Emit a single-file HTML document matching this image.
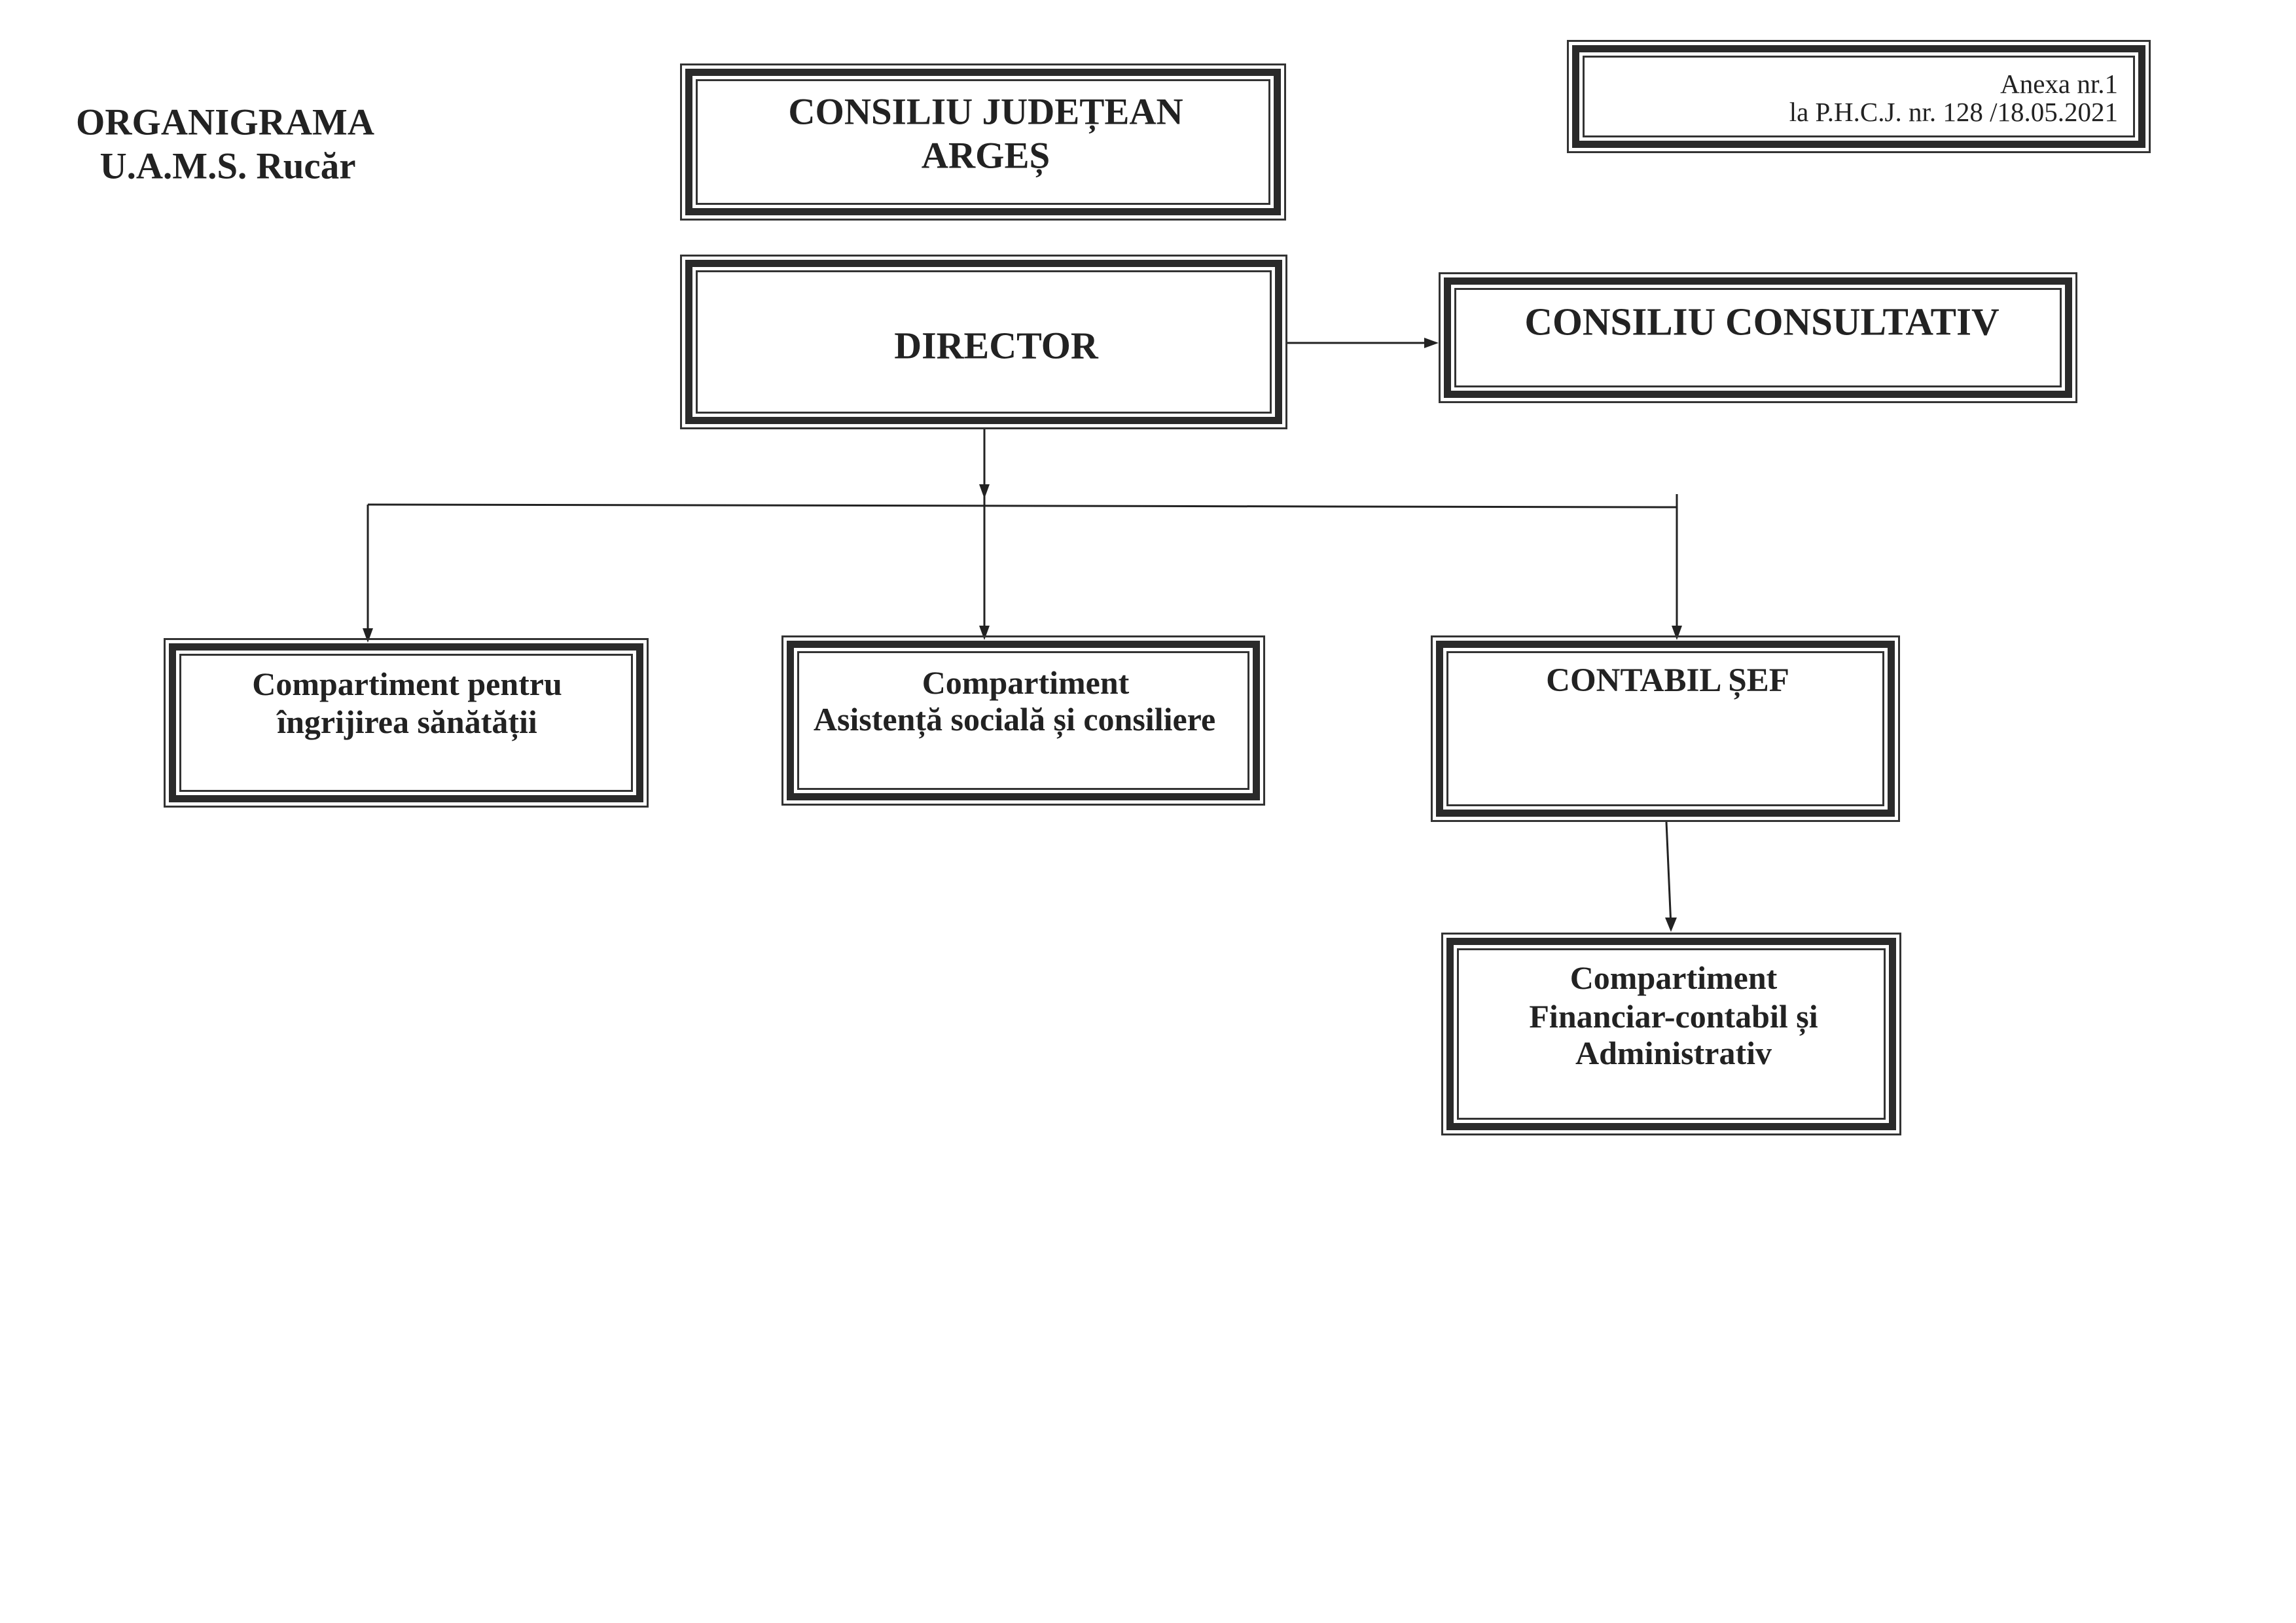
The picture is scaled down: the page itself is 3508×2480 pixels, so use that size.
<!DOCTYPE html>
<html><head><meta charset="utf-8"><style>
body{margin:0;width:3508px;height:2480px;background:#fff;position:relative;overflow:hidden;font-family:"Liberation Serif",serif;color:#222;}
.b{position:absolute;box-sizing:border-box;border:3px solid #333;padding:5px;}
.b>div{box-sizing:border-box;width:100%;height:100%;border:11px solid #2a2a2a;padding:5px;}
.b>div>div{box-sizing:border-box;width:100%;height:100%;border:3px solid #333;}
.t{position:absolute;transform:translate(-50%,-50%);white-space:nowrap;font-weight:bold;}
</style></head><body>
<svg width="3508" height="2480" style="position:absolute;left:0;top:0">
<g stroke="#222" stroke-width="3" fill="none">
<line x1="1504" y1="656" x2="1504" y2="760"/>
<path d="M1496,740 L1512,740 L1504,762z" fill="#222" stroke="none"/>
<line x1="562" y1="771" x2="2562" y2="775"/>
<line x1="562" y1="771" x2="562" y2="970"/>
<path d="M554,960 L570,960 L562,982z" fill="#222" stroke="none"/>
<line x1="1504" y1="760" x2="1504" y2="966"/>
<path d="M1496,956 L1512,956 L1504,978z" fill="#222" stroke="none"/>
<line x1="2562" y1="755" x2="2562" y2="966"/>
<path d="M2554,956 L2570,956 L2562,978z" fill="#222" stroke="none"/>
<line x1="1965" y1="524" x2="2186" y2="524"/>
<path d="M2176,516 L2176,532 L2198,524z" fill="#222" stroke="none"/>
<line x1="2546" y1="1256" x2="2553" y2="1415"/>
<path d="M2544,1402 L2562,1402 L2553,1424z" fill="#222" stroke="none"/>
</g></svg>

<div class="b" style="left:1039px;top:97px;width:926px;height:240px"><div><div></div></div></div>
<div class="b" style="left:1039px;top:389px;width:928px;height:267px"><div><div></div></div></div>
<div class="b" style="left:2198px;top:416px;width:976px;height:200px"><div><div></div></div></div>
<div class="b" style="left:2394px;top:61px;width:892px;height:173px"><div><div></div></div></div>
<div class="b" style="left:250px;top:975px;width:741px;height:259px"><div><div></div></div></div>
<div class="b" style="left:1194px;top:971px;width:739px;height:260px"><div><div></div></div></div>
<div class="b" style="left:2186px;top:971px;width:717px;height:285px"><div><div></div></div></div>
<div class="b" style="left:2202px;top:1425px;width:703px;height:310px"><div><div></div></div></div>

<div class="t" style="left:344px;top:187px;font-size:57px">ORGANIGRAMA</div>
<div class="t" style="left:348px;top:254px;font-size:57px">U.A.M.S. Rucăr</div>

<div class="t" style="left:1506px;top:171px;font-size:57px">CONSILIU JUDEȚEAN</div>
<div class="t" style="left:1506px;top:238px;font-size:57px">ARGEȘ</div>
<div class="t" style="left:1522px;top:528px;font-size:58px">DIRECTOR</div>
<div class="t" style="left:2692px;top:492px;font-size:59px">CONSILIU CONSULTATIV</div>

<div class="t" style="right:272px;left:auto;transform:translateY(-50%);top:128px;font-size:41px;font-weight:normal">Anexa nr.1</div>
<div class="t" style="right:272px;left:auto;transform:translateY(-50%);top:171px;font-size:41px;font-weight:normal">la P.H.C.J. nr. 128 /18.05.2021</div>

<div class="t" style="left:622px;top:1045px;font-size:50px">Compartiment pentru</div>
<div class="t" style="left:622px;top:1103px;font-size:50px">îngrijirea sănătății</div>
<div class="t" style="left:1567px;top:1043px;font-size:50px">Compartiment</div>
<div class="t" style="left:1550px;top:1099px;font-size:50px">Asistență socială și consiliere</div>
<div class="t" style="left:2548px;top:1040px;font-size:51px">CONTABIL ȘEF</div>
<div class="t" style="left:2557px;top:1494px;font-size:50px">Compartiment</div>
<div class="t" style="left:2557px;top:1553px;font-size:50px">Financiar-contabil și</div>
<div class="t" style="left:2557px;top:1609px;font-size:50px">Administrativ</div>
</body></html>
